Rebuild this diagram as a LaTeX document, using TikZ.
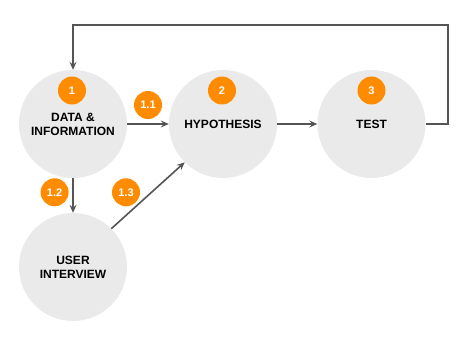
\documentclass[tikz,border=0pt]{standalone}
\usepackage{fontspec}
\setmainfont{Liberation Sans}
\usetikzlibrary{arrows.meta}
\definecolor{stagegray}{HTML}{EAEAEA}
\definecolor{badgeorange}{HTML}{FF8C00}
\definecolor{linegray}{HTML}{555555}
\tikzset{
  stage/.style={circle, fill=stagegray, minimum size=108pt, inner sep=0pt,
    align=center, font=\fontsize{12}{14}\selectfont\bfseries},
  badge/.style={circle, fill=badgeorange, minimum size=28pt, inner sep=0pt,
    text=white, font=\fontsize{11}{12}\selectfont\bfseries},
  flow/.style={draw=linegray, line width=1.6pt, -{Stealth[length=8pt,width=7pt,inset=3pt]}}
}
\begin{document}
\begin{tikzpicture}[x=1pt,y=-1pt]
\useasboundingbox (0,0) rectangle (470,339);

\node[stage] (data) at (73,124) {DATA \&\\INFORMATION};
\node[stage] (hypo) at (223,124) {HYPOTHESIS};
\node[stage] (test) at (371.5,124) {TEST};
\node[stage] (interview) at (73,267) {USER\\INTERVIEW};

\node[badge] (b1) at (72,90.5) {1};
\node[badge] (b2) at (222,90.5) {2};
\node[badge] (b3) at (371.5,90.5) {3};
\node[badge] (b11) at (148,105) {1.1};
\node[badge] (b12) at (54.6,192.3) {1.2};
\node[badge] (b13) at (126,192.3) {1.3};

\draw[flow] (data.east) -- (hypo.west);
\draw[flow] (hypo.east) -- (test.west);
\draw[flow] (data.south) -- (interview.north);
\draw[flow] (interview.45) -- (hypo.225);

\coordinate (loop) at (448,25);
\draw[flow] (test.east) -| (loop) -| (data.north);
\end{tikzpicture}
\end{document}
